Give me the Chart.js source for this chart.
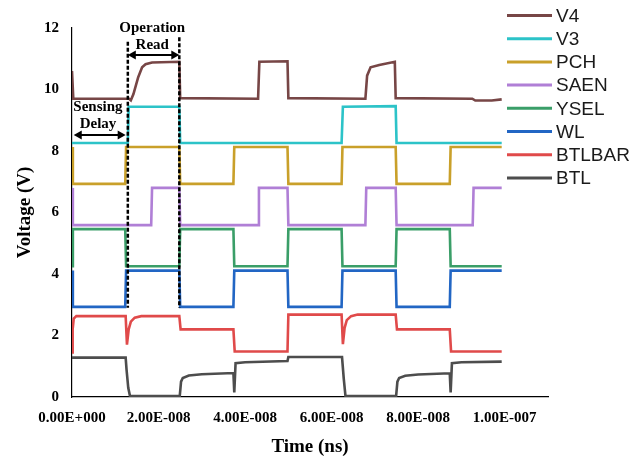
<!DOCTYPE html>
<html>
<head>
<meta charset="utf-8">
<script src="https://cdn.jsdelivr.net/npm/chart.js@4.4.0/dist/chart.umd.min.js"></script>
<style>
    html, body { margin: 0; padding: 0; background: #ffffff; }
    #wrap { width: 644px; height: 459px; }
</style>
</head>
<body>
<div id="wrap"><canvas id="waveChart" width="644" height="459"></canvas></div>
<script>
// Waveforms: [time (ns), voltage (V)]
const V4 = [[0, 10.6], [0.3, 9.7], [13.2, 9.7], [13.6, 9.65], [14.2, 9.85], [15.3, 10.4], [16.2, 10.72], [17, 10.82], [18.5, 10.88],
    [24.8, 10.9], [25, 9.72], [43, 9.7], [43.3, 10.9], [49.8, 10.92], [50, 9.72], [67.8, 9.7], [68.2, 10.45], [69, 10.72],
    [71, 10.8], [74.6, 10.9], [74.8, 9.72], [92.5, 9.7], [93.2, 9.64], [97, 9.64], [99.3, 9.68]];
const V3 = [[0, 8.26], [12.9, 8.26], [13.1, 9.44], [24.8, 9.44], [25, 8.26], [62.3, 8.26], [62.6, 9.44], [74.8, 9.46], [75, 8.26], [99.3, 8.26]];
const PCH = [[0, 8.13], [0.2, 6.93], [12.3, 6.93], [12.5, 8.13], [24.8, 8.13], [25, 6.93], [37.3, 6.93], [37.5, 8.13], [49.8, 8.13],
    [50, 6.93], [62.3, 6.93], [62.5, 8.13], [74.8, 8.13], [75, 6.93], [87.3, 6.93], [87.5, 8.13], [99.3, 8.13]];
const SAEN = [[0, 6.8], [0.2, 5.59], [18.3, 5.59], [18.5, 6.8], [24.8, 6.8], [25, 5.59], [43, 5.59], [43.2, 6.8], [49.8, 6.8],
    [50, 5.59], [67.8, 5.59], [68, 6.8], [74.8, 6.8], [75, 5.59], [92.6, 5.59], [92.8, 6.8], [99.3, 6.8]];
const YSEL = [[0, 4.25], [0.2, 5.46], [12.3, 5.46], [12.5, 4.25], [24.8, 4.25], [25, 5.46], [37.3, 5.46], [37.5, 4.25], [49.8, 4.25],
    [50, 5.46], [62.3, 5.46], [62.5, 4.25], [74.8, 4.25], [75, 5.46], [87.3, 5.46], [87.5, 4.25], [99.3, 4.25]];
const WL = [[0, 4.11], [0.2, 2.93], [12.3, 2.93], [12.5, 4.11], [24.8, 4.11], [25, 2.93], [37.3, 2.93], [37.5, 4.11], [49.8, 4.11],
    [50, 2.93], [62.3, 2.93], [62.5, 4.11], [74.8, 4.11], [75, 2.93], [87.3, 2.93], [87.5, 4.11], [99.3, 4.11]];
const BTLBAR = [[0, 1.45], [0.15, 2.2], [0.4, 2.55], [1, 2.63], [12.4, 2.63], [12.7, 1.7], [13.1, 2.2], [13.6, 2.45], [14.5, 2.58],
    [16, 2.63], [24.8, 2.63], [25.1, 2.2], [37.3, 2.2], [37.6, 1.48], [49.8, 1.48], [50, 2.68], [62.3, 2.68], [62.6, 1.72],
    [63, 2.25], [63.5, 2.5], [64.5, 2.63], [66, 2.68], [74.8, 2.68], [75.1, 2.2], [87.3, 2.2], [87.6, 1.48], [99.3, 1.48]];
const BTL = [[0, 1.28], [12.4, 1.28], [12.6, 0.9], [13, 0.3], [13.4, 0.03], [24.9, 0.03], [25.2, 0.5], [25.6, 0.62], [27, 0.7],
    [30, 0.74], [37.3, 0.78], [37.5, 0.15], [37.8, 1.1], [40, 1.13], [49.8, 1.17], [50, 1.3], [62.4, 1.3], [62.8, 0.6],
    [63.2, 0.03], [74.9, 0.03], [75.2, 0.5], [75.6, 0.62], [77, 0.69], [80, 0.73], [87.3, 0.77], [87.5, 0.15], [87.8, 1.1],
    [90, 1.13], [99.3, 1.15]];

const seriesNames = ['V4', 'V3', 'PCH', 'SAEN', 'YSEL', 'WL', 'BTLBAR', 'BTL'];
const seriesData = [V4, V3, PCH, SAEN, YSEL, WL, BTLBAR, BTL];
const seriesColors = ['#774646', '#2cc3c8', '#c9a02a', '#b07fd6', '#3a9e68', '#2266c4', '#e04a4a', '#4d4d4d'];

// axis ranges (time in ns, labelled in seconds)
const xMin = 0, xMax = 110, xStep = 20;
const yMin = 0, yMax = 12, yStep = 2;

// annotation markers (ns / V)
const readStart = 12.9, readEnd = 24.8;
const delayStart = 0.4, delayEnd = 12.4;

const serif = "'Liberation Serif', 'Times New Roman', serif";

function sciLabel(ns) {
    const s = (ns * 1e-9).toExponential(2);
    const parts = s.split('e');
    const sign = parts[1][0] === '-' ? '-' : '+';
    const digits = parts[1].replace(/[+-]/, '').padStart(3, '0');
    return parts[0] + 'E' + sign + digits;
}

function arrowHead(ctx, x, y, dir) {
    ctx.beginPath();
    ctx.moveTo(x, y);
    ctx.lineTo(x - dir * 8, y - 4.5);
    ctx.lineTo(x - dir * 8, y + 4.5);
    ctx.closePath();
    ctx.fill();
}

function doubleArrow(ctx, x1, x2, y) {
    ctx.beginPath();
    ctx.moveTo(x1 + 4, y);
    ctx.lineTo(x2 - 4, y);
    ctx.stroke();
    arrowHead(ctx, x1, y, -1);
    arrowHead(ctx, x2, y, 1);
}

const annotationPlugin = {
    id: 'readAnnotations',
    afterDatasetsDraw(chart) {
        const ctx = chart.ctx;
        const xs = chart.scales.x;
        const ys = chart.scales.y;
        ctx.save();
        // dashed boundaries of the read window
        ctx.strokeStyle = '#000';
        ctx.lineWidth = 2.5;
        ctx.setLineDash([4, 2]);
        [[readStart, 11.55], [readEnd, 11.7]].forEach(([t, top]) => {
            const px = xs.getPixelForValue(t);
            ctx.beginPath();
            ctx.moveTo(px, ys.getPixelForValue(top));
            ctx.lineTo(px, ys.getPixelForValue(2.9));
            ctx.stroke();
        });
        ctx.setLineDash([]);
        ctx.lineWidth = 2;
        ctx.fillStyle = '#000';
        doubleArrow(ctx, xs.getPixelForValue(readStart), xs.getPixelForValue(readEnd), ys.getPixelForValue(11.12));
        doubleArrow(ctx, xs.getPixelForValue(delayStart), xs.getPixelForValue(delayEnd), ys.getPixelForValue(8.52));

        ctx.font = 'bold 15px ' + serif;
        ctx.textAlign = 'center';
        ctx.textBaseline = 'middle';
        const midRead = xs.getPixelForValue((readStart + readEnd) / 2 - 0.3);
        ctx.fillText('Operation', midRead, ys.getPixelForValue(12.0));
        ctx.fillText('Read', midRead, ys.getPixelForValue(11.45));
        const midDelay = xs.getPixelForValue(6);
        ctx.fillText('Sensing', midDelay, ys.getPixelForValue(9.43));
        ctx.fillText('Delay', midDelay, ys.getPixelForValue(8.88));
        ctx.restore();
    }
};

const sideLegendPlugin = {
    id: 'sideLegend',
    afterDraw(chart) {
        const ctx = chart.ctx;
        ctx.save();
        ctx.font = "19px 'Liberation Sans', Arial, sans-serif";
        ctx.textBaseline = 'middle';
        ctx.textAlign = 'left';
        chart.data.datasets.forEach((ds, i) => {
            const y = 15.5 + i * 23.2;
            ctx.strokeStyle = ds.borderColor;
            ctx.lineWidth = 3;
            ctx.beginPath();
            ctx.moveTo(507, y);
            ctx.lineTo(552, y);
            ctx.stroke();
            ctx.fillStyle = '#1a1a1a';
            ctx.fillText(ds.label, 556, y + 1);
        });
        ctx.restore();
    }
};

const datasets = seriesNames.map((name, i) => ({
    label: name,
    data: seriesData[i].map(p => ({ x: p[0], y: p[1] })),
    borderColor: seriesColors[i],
    backgroundColor: seriesColors[i],
    borderWidth: 2.6,
    pointRadius: 0,
    tension: 0,
    fill: false
}));

new Chart(document.getElementById('waveChart'), {
    type: 'line',
    data: { datasets: datasets },
    options: {
        responsive: false,
        animation: false,
        layout: {
            padding: { left: 0, right: 96, top: 28, bottom: 0 }
        },
        plugins: {
            legend: { display: false },
            tooltip: { enabled: false }
        },
        scales: {
            x: {
                type: 'linear',
                min: xMin,
                max: xMax,
                grid: { display: false, drawTicks: false },
                border: { color: '#000', width: 1.2 },
                ticks: {
                    stepSize: xStep,
                    includeBounds: false,
                    maxRotation: 0,
                    padding: 12,
                    color: '#000',
                    font: { family: serif, size: 15, weight: 'bold' },
                    callback: value => sciLabel(value)
                },
                title: {
                    display: true,
                    text: 'Time (ns)',
                    color: '#000',
                    padding: { top: 0, bottom: 1 },
                    font: { family: serif, size: 19, weight: 'bold' }
                },
                afterFit: scale => { scale.height = 62; }
            },
            y: {
                min: yMin,
                max: yMax,
                grid: { display: false, drawTicks: false },
                border: { color: '#000', width: 1.2 },
                ticks: {
                    stepSize: yStep,
                    padding: 13,
                    color: '#000',
                    font: { family: serif, size: 15, weight: 'bold' }
                },
                title: {
                    display: true,
                    text: 'Voltage (V)',
                    color: '#000',
                    padding: { top: 14, bottom: 0 },
                    font: { family: serif, size: 19, weight: 'bold' }
                },
                afterFit: scale => { scale.width = 72; }
            }
        }
    },
    plugins: [annotationPlugin, sideLegendPlugin]
});
</script>
</body>
</html>
